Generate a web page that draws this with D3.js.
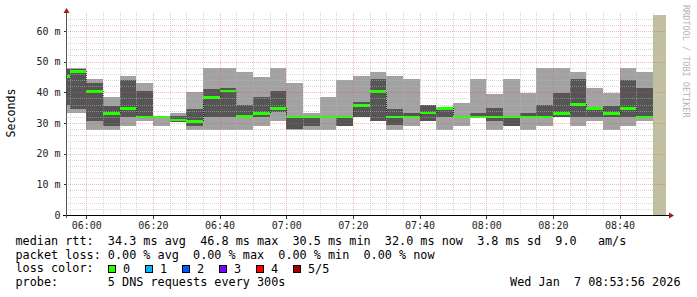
<!DOCTYPE html>
<html>
<head>
<meta charset="utf-8">
<script src="https://cdnjs.cloudflare.com/ajax/libs/d3/7.8.5/d3.min.js"></script>
<style>
    body { margin: 0; background: #fff; }
    svg { display: block; }
    text { font-family: "DejaVu Sans Mono", monospace; }
</style>
</head>
<body>
<div id="chart"></div>
<script>

    // end time of each 5 minute step
    var stepEnds = ["05:55", "06:00", "06:05", "06:10", "06:15", "06:20", "06:25", "06:30", "06:35",
        "06:40", "06:45", "06:50", "06:55", "07:00", "07:05", "07:10", "07:15", "07:20", "07:25",
        "07:30", "07:35", "07:40", "07:45", "07:50", "07:55", "08:00", "08:05", "08:10", "08:15",
        "08:20", "08:25", "08:30", "08:35", "08:40", "08:45", "08:50"];

    // sorted pings (ms), 5 per step
    var ping1 = [33.2, 33.3, 27.8, 27.8, 29.1, 30.5, 29.1, 30.3, 27.8, 27.8, 27.8, 27.8, 29.1, 30.5, 27.8, 27.8, 27.8, 29.0,
        31.9, 30.6, 27.8, 29.1, 30.7, 27.8, 29.1, 31.8, 27.8, 29.0, 27.8, 29.1, 31.9, 29.1, 30.5, 27.8, 29.1, 30.5];
    var ping2 = [35.9, 34.6, 30.7, 29.1, 32.0, 31.8, 31.9, 30.4, 29.1, 32.0, 32.0, 32.0, 32.0, 33.7, 27.9, 29.1, 31.9, 29.1,
        32.0, 30.7, 29.3, 31.9, 30.8, 32.0, 31.9, 31.9, 30.7, 29.1, 31.9, 31.9, 32.0, 32.0, 32.0, 32.0, 32.0, 31.9];
    var median = [45.1, 46.8, 40.3, 33.1, 34.8, 32.0, 32.0, 31.0, 30.5, 38.4, 40.4, 32.1, 33.1, 34.8, 32.0, 32.0, 32.0, 32.0,
        35.6, 40.2, 32.0, 32.0, 33.2, 34.8, 32.0, 32.0, 32.0, 32.0, 32.0, 32.0, 33.1, 36.1, 34.8, 33.1, 34.8, 32.0];
    var ping4 = [47.7, 47.6, 43.0, 35.6, 44.1, 40.5, 32.1, 32.3, 34.6, 41.1, 41.5, 35.9, 38.5, 40.5, 32.2, 32.2, 32.2, 32.2,
        36.9, 44.3, 34.6, 33.4, 35.9, 35.2, 32.2, 33.4, 35.0, 32.2, 33.4, 36.0, 39.8, 44.3, 35.0, 35.6, 44.0, 41.5];
    var ping5 = [47.9, 47.9, 44.3, 38.5, 45.4, 43.0, 32.2, 33.4, 40.0, 47.9, 47.9, 46.7, 45.0, 47.9, 43.1, 33.4, 38.5, 44.0,
        45.4, 46.7, 45.4, 44.3, 36.0, 35.3, 36.5, 44.3, 39.6, 44.3, 39.8, 47.9, 47.9, 46.7, 41.5, 39.8, 47.9, 46.7];
    var lossCount = [0, 0, 0, 0, 0, 0, 0, 0, 0, 0, 0, 0, 0, 0, 0, 0, 0, 0,
        0, 0, 0, 0, 0, 0, 0, 0, 0, 0, 0, 0, 0, 0, 0, 0, 0, 0];

    var lossLabels = ["0", "1", "2", "3", "4", "5/5"];
    var lossColors = ["#26ff00", "#00b8ff", "#0059ff", "#7e00ff", "#ff0000", "#a10000"];

    var yTicks = [0, 10, 20, 30, 40, 50, 60];
    var xTickLabels = ["06:00", "06:20", "06:40", "07:00", "07:20", "07:40", "08:00", "08:20", "08:40"];

    var startTime = "05:53:56";
    var endTime = "08:53:56";

    var legendLines = [
        "median rtt:  34.3 ms avg  46.8 ms max  30.5 ms min  32.0 ms now  3.8 ms sd  9.0   am/s",
        "packet loss: 0.00 % avg  0.00 % max  0.00 % min  0.00 % now",
        "loss color:",
        "probe:       5 DNS requests every 300s"
    ];
    var dateLabel = "Wed Jan  7 08:53:56 2026";

    var svgWidth = 697;
    var svgHeight = 297;
    var margin = { top: 15, left: 66, right: 31, bottom: 82 };
    var plot_width = svgWidth - margin.left - margin.right;
    var plot_height = svgHeight - margin.top - margin.bottom;

    var parseT = d3.timeParse("%Y-%m-%d %H:%M:%S");
    var toDate = function (t) { return parseT("2026-01-07 " + (t.length == 5 ? t + ":00" : t)); };
    // keep runs of spaces in svg text
    var keepSpaces = function (s) { return s.replace(/ /g, "\u00a0"); };

    var t0 = toDate(startTime), t1 = toDate(endTime);

    var xScale = d3.scaleTime().domain([t0, t1]).range([margin.left, margin.left + plot_width]);
    var yScale = d3.scaleLinear().domain([0, 65.2]).range([margin.top + plot_height, margin.top]);

    var steps = stepEnds.map(function (s, i) {
        var end = toDate(s);
        var begin = d3.timeMinute.offset(end, -5);
        if (begin < t0) begin = t0;
        return { begin: begin, end: end, p1: ping1[i], p2: ping2[i], med: median[i], p4: ping4[i], p5: ping5[i], loss: lossCount[i] };
    });

    var svg = d3.select("#chart").append("svg")
        .attr("width", svgWidth)
        .attr("height", svgHeight);

    var plot = svg.append("g").attr("shape-rendering", "crispEdges");

    // unknown region after last update
    var lastEnd = toDate(stepEnds[stepEnds.length - 1]);
    plot.append("rect")
        .attr("x", xScale(lastEnd))
        .attr("y", yScale.range()[1])
        .attr("width", xScale(t1) - xScale(lastEnd))
        .attr("height", plot_height)
        .attr("fill", "#c2c0a0");

    // smoke
    plot.selectAll(".outer").data(steps).enter().append("rect")
        .attr("x", d => xScale(d.begin))
        .attr("width", d => xScale(d.end) - xScale(d.begin))
        .attr("y", d => yScale(d.p5))
        .attr("height", d => yScale(d.p1) - yScale(d.p5))
        .attr("fill", "#a2a2a2");

    plot.selectAll(".inner").data(steps).enter().append("rect")
        .attr("x", d => xScale(d.begin))
        .attr("width", d => xScale(d.end) - xScale(d.begin))
        .attr("y", d => yScale(d.p4))
        .attr("height", d => yScale(d.p2) - yScale(d.p4))
        .attr("fill", "#555555");

    // median: dotted connectors between steps, then loss coloured bars
    var joins = steps.slice(1).map(function (d, i) {
        return { t: d.begin, a: steps[i].med, b: d.med };
    });
    plot.selectAll(".join").data(joins).enter().append("line")
        .attr("x1", d => Math.round(xScale(d.t)) + 0.5).attr("x2", d => Math.round(xScale(d.t)) + 0.5)
        .attr("y1", d => yScale(d.a)).attr("y2", d => yScale(d.b))
        .attr("stroke", "#202020")
        .attr("stroke-dasharray", "1,1");

    plot.selectAll(".med").data(steps).enter().append("rect")
        .attr("x", d => xScale(d.begin))
        .attr("width", d => xScale(d.end) - xScale(d.begin))
        .attr("y", d => yScale(d.med) - 1.3)
        .attr("height", 2.6)
        .attr("fill", d => lossColors[d.loss]);

    // grid on top
    var grid = svg.append("g").attr("shape-rendering", "crispEdges").attr("stroke-dasharray", "1,1");
    var minutes5 = d3.timeMinute.every(5).range(t0, t1);
    var isMajorT = function (t) { return t.getMinutes() % 20 == 0; };

    grid.selectAll(".vminor").data(minutes5.filter(t => !isMajorT(t))).enter().append("line")
        .attr("x1", d => Math.round(xScale(d)) + 0.5).attr("x2", d => Math.round(xScale(d)) + 0.5)
        .attr("y1", margin.top - 2).attr("y2", margin.top + plot_height)
        .attr("stroke", "rgba(180,180,180,0.55)");

    grid.selectAll(".hminor").data(d3.range(2, 65, 2).filter(v => v % 10 != 0)).enter().append("line")
        .attr("x1", margin.left).attr("x2", margin.left + plot_width)
        .attr("y1", d => Math.round(yScale(d)) + 0.5).attr("y2", d => Math.round(yScale(d)) + 0.5)
        .attr("stroke", "rgba(180,180,180,0.55)");

    grid.selectAll(".vmajor").data(minutes5.filter(isMajorT)).enter().append("line")
        .attr("x1", d => Math.round(xScale(d)) + 0.5).attr("x2", d => Math.round(xScale(d)) + 0.5)
        .attr("y1", margin.top - 2).attr("y2", margin.top + plot_height)
        .attr("stroke", "rgba(225,80,80,0.4)");

    grid.selectAll(".hmajor").data(yTicks.filter(v => v > 0)).enter().append("line")
        .attr("x1", margin.left).attr("x2", margin.left + plot_width)
        .attr("y1", d => Math.round(yScale(d)) + 0.5).attr("y2", d => Math.round(yScale(d)) + 0.5)
        .attr("stroke", "rgba(225,80,80,0.4)");

    // axes
    var xAxis = d3.axisBottom(xScale)
        .tickValues(xTickLabels.map(toDate))
        .tickFormat(d3.timeFormat("%H:%M"))
        .tickSize(3)
        .tickPadding(3);
    var yAxis = d3.axisLeft(yScale)
        .tickValues(yTicks)
        .tickFormat(d => keepSpaces(d == 0 ? "0" : d + " m"))
        .tickSize(3)
        .tickPadding(3);

    var gx = svg.append("g")
        .attr("transform", `translate(0, ${margin.top + plot_height + 0.5})`)
        .call(xAxis);
    var gy = svg.append("g")
        .attr("transform", `translate(${margin.left + 0.5}, 0)`)
        .call(yAxis);

    [gx, gy].forEach(function (g) {
        g.select(".domain").remove();
        g.selectAll("line").attr("stroke", "#333").attr("shape-rendering", "crispEdges");
        g.selectAll("text").attr("font-size", "10px").attr("fill", "#222")
            .attr("font-family", "DejaVu Sans Mono, monospace");
    });

    svg.append("line")
        .attr("x1", margin.left - 3).attr("x2", margin.left + plot_width + 3)
        .attr("y1", margin.top + plot_height + 0.5).attr("y2", margin.top + plot_height + 0.5)
        .attr("stroke", "#000").attr("shape-rendering", "crispEdges");
    svg.append("line")
        .attr("x1", margin.left + 0.5).attr("x2", margin.left + 0.5)
        .attr("y1", margin.top - 4).attr("y2", margin.top + plot_height + 3)
        .attr("stroke", "#555").attr("shape-rendering", "crispEdges");

    svg.append("path")
        .attr("d", `M${margin.left + 0.5},${margin.top - 7} L${margin.left - 2.5},${margin.top - 2} L${margin.left + 3.5},${margin.top - 2} Z`)
        .attr("fill", "#9a1c1c");
    svg.append("path")
        .attr("d", `M${margin.left + plot_width + 8},${margin.top + plot_height + 0.5} L${margin.left + plot_width + 3},${margin.top + plot_height - 2.5} L${margin.left + plot_width + 3},${margin.top + plot_height + 3.5} Z`)
        .attr("fill", "#9a1c1c");

    // titles
    svg.append("text")
        .attr("transform", `translate(15, ${margin.top + plot_height / 2 - 2}) rotate(-90)`)
        .attr("text-anchor", "middle")
        .attr("font-size", "11.6px")
        .attr("fill", "#000")
        .text("Seconds");

    svg.append("text")
        .attr("transform", "translate(683, 5) rotate(90)")
        .attr("font-size", "8.5px")
        .attr("fill", "#b4b4b4")
        .text("RRDTOOL / TOBI OETIKER");

    // legend
    var legend = svg.append("g")
        .attr("font-size", "11.8px")
        .attr("fill", "#000");
    legend.selectAll("text.line").data(legendLines).enter().append("text")
        .attr("x", 15.5)
        .attr("y", (d, i) => 245 + i * 13.7)
        .text(d => keepSpaces(d));

    var boxes = legend.selectAll("g.box").data(lossLabels).enter().append("g")
        .attr("transform", (d, i) => `translate(${108.5 + i * 37}, 265.5)`);
    boxes.append("rect")
        .attr("width", 7).attr("height", 7)
        .attr("fill", (d, i) => lossColors[i])
        .attr("stroke", "#000")
        .attr("shape-rendering", "crispEdges");
    boxes.append("text")
        .attr("x", 14.5)
        .attr("y", 7)
        .text(d => d);

    legend.append("text")
        .attr("x", 680.5)
        .attr("y", 286)
        .attr("text-anchor", "end")
        .text(keepSpaces(dateLabel));

</script>
</body>
</html>
